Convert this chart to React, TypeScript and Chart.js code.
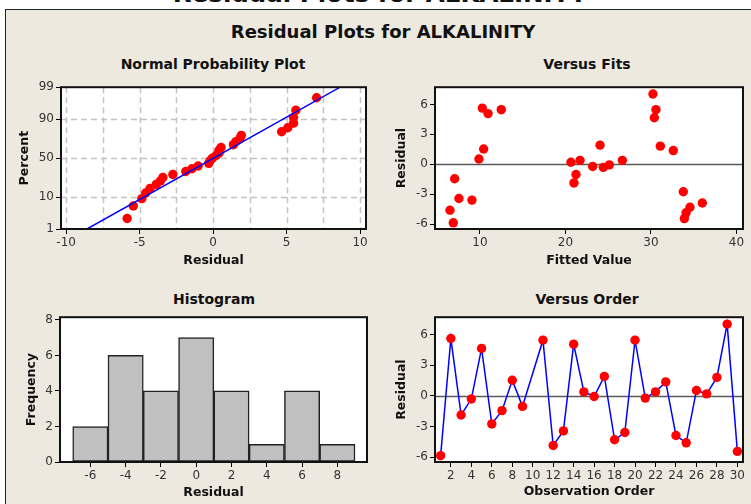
import React, { useEffect, useRef } from 'react';
import { Chart, registerables } from 'chart.js';

Chart.register(...registerables);
Chart.defaults.font.family = 'DejaVu Sans';

// ---------------- data ----------------
const mainTitle = 'Residual Plots for ALKALINITY';
const observationOrder = [1, 2, 3, 4, 5, 6, 7, 8, 9, 10, 11, 12, 13, 14, 15, 16, 17, 18, 19, 20, 21, 22, 23, 24, 25, 26, 27, 28, 29, 30];
const residuals: (number | null)[] = [
  -5.85, 5.63, -1.86, -0.3, 4.66, -2.74, -1.44, 1.54, -1.02, null,
  5.47, -4.85, -3.42, 5.08, 0.4, -0.05, 1.92, -4.29, -3.58, 5.47,
  -0.21, 0.4, 1.38, -3.87, -4.59, 0.54, 0.21, 1.82, 7.04, -5.43,
];
const fittedValues: (number | null)[] = [
  6.88, 10.27, 20.99, 24.42, 30.39, 33.78, 7.04, 10.43, 21.23, null,
  12.49, 34.1, 7.54, 10.94, 21.7, 25.13, 24.04, 34.56, 9.06, 30.58,
  23.18, 26.65, 32.61, 36.0, 6.49, 9.88, 20.64, 31.09, 30.23, 33.9,
];
const histogramBinCenters = [-6, -4, -2, 0, 2, 4, 6, 8];
const histogramFrequency = [2, 6, 4, 7, 4, 1, 4, 1];
const normalLineResidual = [-8.58, 8.64];
const normalLinePercent = [1, 99];

const percentTicks = [1, 10, 50, 90, 99];
const percentGrid = [10, 50, 90];
const normalResidualTicks = [-10, -5, 0, 5, 10];
const normalResidualGrid = [-10, -7.5, -5, -2.5, 0, 2.5, 5, 7.5, 10];
const fittedTicks = [10, 20, 30, 40];
const residualTicks = [-6, -3, 0, 3, 6];
const histResidualTicks = [-6, -4, -2, 0, 2, 4, 6, 8];
const frequencyTicks = [0, 2, 4, 6, 8];
const orderTicks = [2, 4, 6, 8, 10, 12, 14, 16, 18, 20, 22, 24, 26, 28, 30];

// axis ranges
const normalXRange = [-10.35, 10.4];
const fitsXRange = [4.74, 40.76];
const residualYRange = [-6.47, 7.72];
const histXRange = [-7.72, 9.68];
const histYRange = [0, 8.15];
const orderXRange = [0.45, 30.55];

// ---------------- helpers ----------------
function probit(p: number): number {
  const a = [-3.969683028665376e1, 2.209460984245205e2, -2.759285104469687e2, 1.38357751867269e2, -3.066479806614716e1, 2.506628277459239];
  const b = [-5.447609879822406e1, 1.615858368580409e2, -1.556989798598866e2, 6.680131188771972e1, -1.328068155288572e1];
  const c = [-7.784894002430293e-3, -3.223964580411365e-1, -2.400758277161838, -2.549732539343734, 4.374664141464968, 2.938163982698783];
  const d = [7.784695709041462e-3, 3.224671290700398e-1, 2.445134137142996, 3.754408661907416];
  const plow = 0.02425;
  if (p < plow) {
    const q = Math.sqrt(-2 * Math.log(p));
    return (((((c[0] * q + c[1]) * q + c[2]) * q + c[3]) * q + c[4]) * q + c[5]) / ((((d[0] * q + d[1]) * q + d[2]) * q + d[3]) * q + 1);
  }
  if (p > 1 - plow) {
    const q = Math.sqrt(-2 * Math.log(1 - p));
    return -(((((c[0] * q + c[1]) * q + c[2]) * q + c[3]) * q + c[4]) * q + c[5]) / ((((d[0] * q + d[1]) * q + d[2]) * q + d[3]) * q + 1);
  }
  const q = p - 0.5;
  const r = q * q;
  return ((((((a[0] * r + a[1]) * r + a[2]) * r + a[3]) * r + a[4]) * r + a[5]) * q) / (((((b[0] * r + b[1]) * r + b[2]) * r + b[3]) * r + b[4]) * r + 1);
}

type Box = { cx: number; cy: number; cw: number; ch: number; L: number; T: number; R: number; B: number; yTitleX: number; xTitleY: number };

const TICK_FONT = { family: 'DejaVu Sans', size: 12 };
const AXIS_TITLE_FONT = { family: 'DejaVu Sans', size: 12.5, weight: 'bold' as const, lineHeight: 1.2 };
const LH = 12.5 * 1.2;

function makeScales(box: Box, xr: number[], xTicks: number[], xLabel: string, yr: number[], yTicks: number[], yLabel: string, yFmt?: (v: any, i: number) => string) {
  return {
    x: {
      type: 'linear',
      position: 'bottom',
      min: xr[0],
      max: xr[1],
      offset: false,
      afterBuildTicks: (s: any) => { s.ticks = xTicks.map((v) => ({ value: v })); },
      afterFit: (s: any) => { s.height = box.cy + box.ch - box.B; },
      ticks: { autoSkip: false, maxRotation: 0, minRotation: 0, padding: 2, color: '#333', font: TICK_FONT, callback: (v: any) => String(v) },
      grid: { drawOnChartArea: false, drawTicks: true, tickLength: 5, color: '#000', lineWidth: 1, offset: false },
      border: { display: false },
      title: { display: true, text: xLabel, color: '#111', font: AXIS_TITLE_FONT, padding: { top: 0, bottom: box.cy + box.ch - box.xTitleY - LH / 2 } },
    },
    y: {
      type: 'linear',
      position: 'left',
      min: yr[0],
      max: yr[1],
      afterBuildTicks: (s: any) => { s.ticks = yTicks.map((v) => ({ value: v })); },
      afterFit: (s: any) => { s.width = box.L - box.cx; },
      ticks: { autoSkip: false, padding: 2, color: '#333', font: TICK_FONT, callback: yFmt || ((v: any) => String(v)) },
      grid: { drawOnChartArea: false, drawTicks: true, tickLength: 5, color: '#000', lineWidth: 1 },
      border: { display: false },
      title: { display: true, text: yLabel, color: '#111', font: AXIS_TITLE_FONT, padding: { top: box.yTitleX - box.cx - LH / 2, bottom: 0 } },
    },
  };
}

function decor(opts: { gridX?: number[]; gridY?: number[]; zero?: boolean }) {
  return {
    id: 'decor',
    beforeDraw(chart: any) {
      const { ctx, chartArea: a } = chart;
      ctx.save();
      ctx.fillStyle = '#ffffff';
      ctx.fillRect(a.left, a.top, a.right - a.left, a.bottom - a.top);
      ctx.restore();
    },
    beforeDatasetsDraw(chart: any) {
      const { ctx, chartArea: a, scales } = chart;
      ctx.save();
      ctx.strokeStyle = '#c4c4c4';
      ctx.lineWidth = 1.5;
      ctx.setLineDash([6, 4]);
      (opts.gridX || []).forEach((v) => {
        const x = Math.round(scales.x.getPixelForValue(v)) + 0.5;
        ctx.beginPath(); ctx.moveTo(x, a.top); ctx.lineTo(x, a.bottom); ctx.stroke();
      });
      (opts.gridY || []).forEach((v) => {
        const y = Math.round(scales.y.getPixelForValue(v)) + 0.5;
        ctx.beginPath(); ctx.moveTo(a.left, y); ctx.lineTo(a.right, y); ctx.stroke();
      });
      ctx.setLineDash([]);
      if (opts.zero) {
        const y = Math.round(scales.y.getPixelForValue(0)) + 0.5;
        ctx.strokeStyle = '#5a5a5a';
        ctx.lineWidth = 1.5;
        ctx.beginPath(); ctx.moveTo(a.left, y); ctx.lineTo(a.right, y); ctx.stroke();
      }
      ctx.restore();
    },
    afterDatasetsDraw(chart: any) {
      const { ctx, chartArea: a } = chart;
      ctx.save();
      ctx.strokeStyle = '#111';
      ctx.lineWidth = 2;
      ctx.strokeRect(a.left, a.top, a.right - a.left, a.bottom - a.top);
      ctx.restore();
    },
  };
}

function baseOptions(box: Box, scales: any) {
  return {
    responsive: false,
    animation: false,
    devicePixelRatio: 1,
    events: [],
    layout: { padding: { left: 0, top: box.T - box.cy, right: box.cx + box.cw - box.R, bottom: 0 } },
    plugins: { legend: { display: false }, tooltip: { enabled: false }, title: { display: false } },
    scales,
  };
}

const RED = '#ff0000';
const BLUE = '#0000ff';
const DOT = 4.7;

// ---------- chart builders ----------
function normalConfig(box: Box) {
  const valid = residuals.filter((v) => v !== null) as number[];
  const sorted = [...valid].sort((p, q) => p - q);
  const n = sorted.length;
  const pts = sorted.map((v, i) => ({ x: v, y: probit((i + 1 - 0.3) / (n + 0.4)) }));
  const line = normalLineResidual.map((x, i) => ({ x, y: probit(normalLinePercent[i] / 100) }));
  const yr = [probit(percentTicks[0] / 100), probit(percentTicks[percentTicks.length - 1] / 100)];
  const scales = makeScales(box, normalXRange, normalResidualTicks, 'Residual', yr, percentTicks.map((p) => probit(p / 100)), 'Percent', (_v: any, i: number) => String(percentTicks[i]));
  return {
    type: 'scatter',
    data: {
      datasets: [
        { data: line, showLine: true, borderColor: BLUE, borderWidth: 1.5, pointRadius: 0, clip: 0 },
        { data: pts, pointRadius: DOT, pointBackgroundColor: RED, pointBorderWidth: 0, borderColor: RED, clip: false },
      ],
    },
    options: baseOptions(box, scales),
    plugins: [decor({ gridX: normalResidualGrid, gridY: percentGrid.map((p) => probit(p / 100)) })],
  };
}

function fitsConfig(box: Box) {
  const pts = observationOrder
    .map((_, i) => ({ x: fittedValues[i], y: residuals[i] }))
    .filter((p) => p.x !== null && p.y !== null);
  const scales = makeScales(box, fitsXRange, fittedTicks, 'Fitted Value', residualYRange, residualTicks, 'Residual');
  return {
    type: 'scatter',
    data: { datasets: [{ data: pts, pointRadius: DOT, pointBackgroundColor: RED, pointBorderWidth: 0, borderColor: RED, clip: false }] },
    options: baseOptions(box, scales),
    plugins: [decor({ zero: true })],
  };
}

function histConfig(box: Box) {
  const scales = makeScales(box, histXRange, histResidualTicks, 'Residual', histYRange, frequencyTicks, 'Frequency');
  return {
    type: 'bar',
    data: {
      datasets: [
        {
          data: histogramBinCenters.map((c, i) => ({ x: c, y: histogramFrequency[i] })),
          backgroundColor: '#c0c0c0',
          borderColor: '#222',
          borderWidth: 1.5,
          borderSkipped: false,
          barPercentage: 1,
          categoryPercentage: 1,
        },
      ],
    },
    options: baseOptions(box, scales),
    plugins: [decor({})],
  };
}

function orderConfig(box: Box) {
  const scales = makeScales(box, orderXRange, orderTicks, 'Observation Order', residualYRange, residualTicks, 'Residual');
  return {
    type: 'line',
    data: {
      datasets: [
        {
          data: observationOrder.map((o, i) => ({ x: o, y: residuals[i] })),
          borderColor: BLUE,
          borderWidth: 1.5,
          spanGaps: true,
          pointRadius: DOT,
          pointBackgroundColor: RED,
          pointBorderWidth: 0,
          pointBorderColor: RED,
          tension: 0,
          clip: false,
        },
      ],
    },
    options: baseOptions(box, scales),
    plugins: [decor({ zero: true })],
  };
}

// ---------- layout boxes ----------
const boxNormal: Box = { cx: 8, cy: 78, cw: 372, ch: 196, L: 61, T: 87, R: 366, B: 229, yTitleX: 25, xTitleY: 261 };
const boxFits: Box = { cx: 385, cy: 78, cw: 366, ch: 196, L: 435, T: 87, R: 743, B: 229, yTitleX: 402, xTitleY: 261 };
const boxHist: Box = { cx: 8, cy: 308, cw: 372, ch: 196, L: 60, T: 317, R: 367, B: 462, yTitleX: 32, xTitleY: 493 };
const boxOrder: Box = { cx: 385, cy: 308, cw: 366, ch: 196, L: 435, T: 317, R: 743, B: 462, yTitleX: 402, xTitleY: 492 };

function ChartCanvas({ box, build }: { box: Box; build: (b: Box) => any }) {
  const ref = useRef<HTMLCanvasElement>(null);
  useEffect(() => {
    const chart = new Chart(ref.current as HTMLCanvasElement, build(box) as any);
    return () => chart.destroy();
  }, []);
  return (
    <canvas
      ref={ref}
      width={box.cw}
      height={box.ch}
      style={{ position: 'absolute', left: box.cx, top: box.cy, width: box.cw, height: box.ch }}
    />
  );
}

function Label({ text, cx, cy, size, width = 400 }: { text: string; cx: number; cy: number; size: number; width?: number }) {
  return (
    <div
      style={{
        position: 'absolute',
        left: cx - width / 2,
        top: cy - size / 2,
        width,
        textAlign: 'center',
        fontFamily: 'DejaVu Sans',
        fontWeight: 'bold',
        fontSize: size,
        lineHeight: `${size}px`,
        color: '#111',
        whiteSpace: 'nowrap',
      }}
    >
      {text}
    </div>
  );
}

export default function App() {
  return (
    <div style={{ position: 'fixed', left: 0, top: 0, width: 751, height: 504, background: '#fff', overflow: 'hidden' }}>
      <Label text={mainTitle} cx={380} cy={-6} size={24.5} width={700} />
      <div
        style={{
          position: 'absolute',
          left: 5,
          top: 9,
          width: 800,
          height: 600,
          background: '#ede9df',
          borderLeft: '1px solid #222',
          borderTop: '1px solid #222',
        }}
      />
      <Label text={mainTitle} cx={383} cy={32} size={18} width={600} />
      <Label text="Normal Probability Plot" cx={213} cy={64} size={14} />
      <Label text="Versus Fits" cx={587} cy={64} size={14} />
      <Label text="Histogram" cx={214} cy={298.5} size={14} />
      <Label text="Versus Order" cx={587} cy={298.5} size={14} />
      <ChartCanvas box={boxNormal} build={normalConfig} />
      <ChartCanvas box={boxFits} build={fitsConfig} />
      <ChartCanvas box={boxHist} build={histConfig} />
      <ChartCanvas box={boxOrder} build={orderConfig} />
    </div>
  );
}
